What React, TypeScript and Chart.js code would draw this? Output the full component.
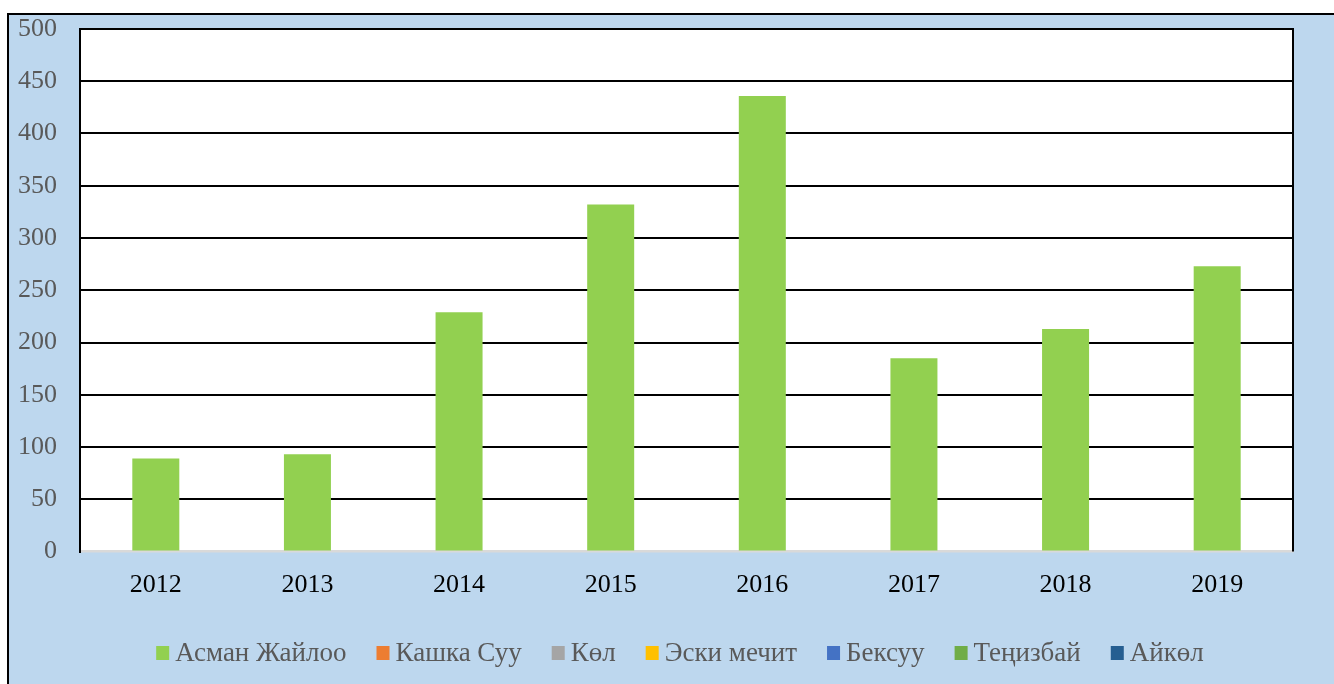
import { useEffect, useRef } from 'react';
import { Chart, registerables } from 'chart.js';

Chart.register(...registerables);

const categories = ['2012', '2013', '2014', '2015', '2016', '2017', '2018', '2019'];
const asmanJailooValues = [89, 93, 229, 332, 436, 185, 213, 273];
const emptySeries = [null, null, null, null, null, null, null, null];
const seriesNames = ['Асман Жайлоо', 'Кашка Суу', 'Көл', 'Эски мечит', 'Бексуу', 'Теңизбай', 'Айкөл'];
const seriesColors = ['#92D050', '#ED7D31', '#A5A5A5', '#FFC000', '#4472C4', '#70AD47', '#255E91'];
const yMin = 0;
const yMax = 500;
const yStep = 50;

const FONT = '"Liberation Serif", "Times New Roman", serif';

export default function App() {
  const ref = useRef<HTMLCanvasElement>(null);

  useEffect(() => {
    if (!ref.current) return;

    const plotBg = {
      id: 'plotBg',
      beforeDraw(chart: any) {
        const { ctx, chartArea: a } = chart;
        ctx.save();
        ctx.fillStyle = '#FFFFFF';
        ctx.fillRect(a.left, a.top, a.right - a.left, a.bottom - a.top);
        ctx.restore();
      },
    };

    const rightBorder = {
      id: 'rightBorder',
      afterDraw(chart: any) {
        const { ctx, chartArea: a } = chart;
        ctx.save();
        ctx.strokeStyle = '#000000';
        ctx.lineWidth = 2;
        ctx.beginPath();
        ctx.moveTo(a.right, a.top - 1);
        ctx.lineTo(a.right, a.bottom);
        ctx.stroke();
        ctx.restore();
      },
    };

    const customLegend = {
      id: 'customLegend',
      afterDraw(chart: any) {
        const { ctx } = chart;
        const box = 13;
        const textGap = 6;
        const itemGap = 30;
        const centerX = 680;
        const centerY = 653;
        ctx.save();
        ctx.font = `27px ${FONT}`;
        ctx.textBaseline = 'middle';
        ctx.textAlign = 'left';
        const items = chart.data.datasets.map((ds: any) => ({
          label: ds.label,
          color: ds.backgroundColor,
          w: box + textGap + ctx.measureText(ds.label).width,
        }));
        const total = items.reduce((s: number, it: any) => s + it.w, 0) + itemGap * (items.length - 1);
        let x = centerX - total / 2;
        for (const it of items) {
          ctx.fillStyle = it.color;
          ctx.fillRect(x, centerY - 7, box, 14);
          ctx.fillStyle = '#595959';
          ctx.fillText(it.label, x + box + textGap, centerY + 1);
          x += it.w + itemGap;
        }
        ctx.restore();
      },
    };

    const datasets = seriesNames.map((name, i) => ({
      label: name,
      data: i === 0 ? asmanJailooValues : emptySeries,
      backgroundColor: seriesColors[i],
      borderWidth: 0,
      grouped: false,
      barPercentage: 0.31,
      categoryPercentage: 1,
    }));

    const chart = new Chart(ref.current, {
      type: 'bar',
      data: { labels: categories, datasets: datasets as any },
      plugins: [plotBg, rightBorder, customLegend],
      options: {
        animation: false,
        responsive: false,
        maintainAspectRatio: false,
        layout: { padding: { left: 0, top: 29, right: 41, bottom: 72.5 } },
        plugins: {
          legend: { display: false },
          title: { display: false },
          tooltip: { enabled: false },
        },
        scales: {
          x: {
            grid: { display: false, drawTicks: false },
            border: { display: true, color: '#D9D9D9', width: 2.5 },
            ticks: {
              color: '#000000',
              font: { family: FONT, size: 26 },
              padding: 18,
              maxRotation: 0,
            },
            afterFit(scale: any) {
              scale.height = 60;
              scale.paddingLeft = 0;
              scale.paddingRight = 0;
            },
          },
          y: {
            min: yMin,
            max: yMax,
            ticks: {
              stepSize: yStep,
              color: '#595959',
              font: { family: FONT, size: 26 },
              padding: 23,
            },
            grid: {
              drawTicks: false,
              lineWidth: 2,
              color: (c: any) => (c.tick && c.tick.value === 0 ? 'rgba(0,0,0,0)' : '#000000'),
            },
            border: { display: true, color: '#000000', width: 2 },
            afterFit(scale: any) {
              scale.width = 80;
              scale.paddingTop = 0;
              scale.paddingBottom = 0;
            },
          },
        },
      },
    });

    return () => chart.destroy();
  }, []);

  return (
    <div
      style={{
        position: 'fixed',
        left: 0,
        top: 0,
        width: 1334,
        height: 684,
        background: '#FFFFFF',
        overflow: 'hidden',
      }}
    >
      <div
        style={{
          position: 'absolute',
          left: 7,
          top: 13,
          width: 1400,
          height: 760,
          background: '#BDD7EE',
          borderTop: '2px solid #000',
          borderLeft: '2px solid #000',
        }}
      />
      <canvas
        ref={ref}
        width={1334}
        height={684}
        style={{ position: 'absolute', left: 0, top: 0, width: 1334, height: 684 }}
      />
    </div>
  );
}
